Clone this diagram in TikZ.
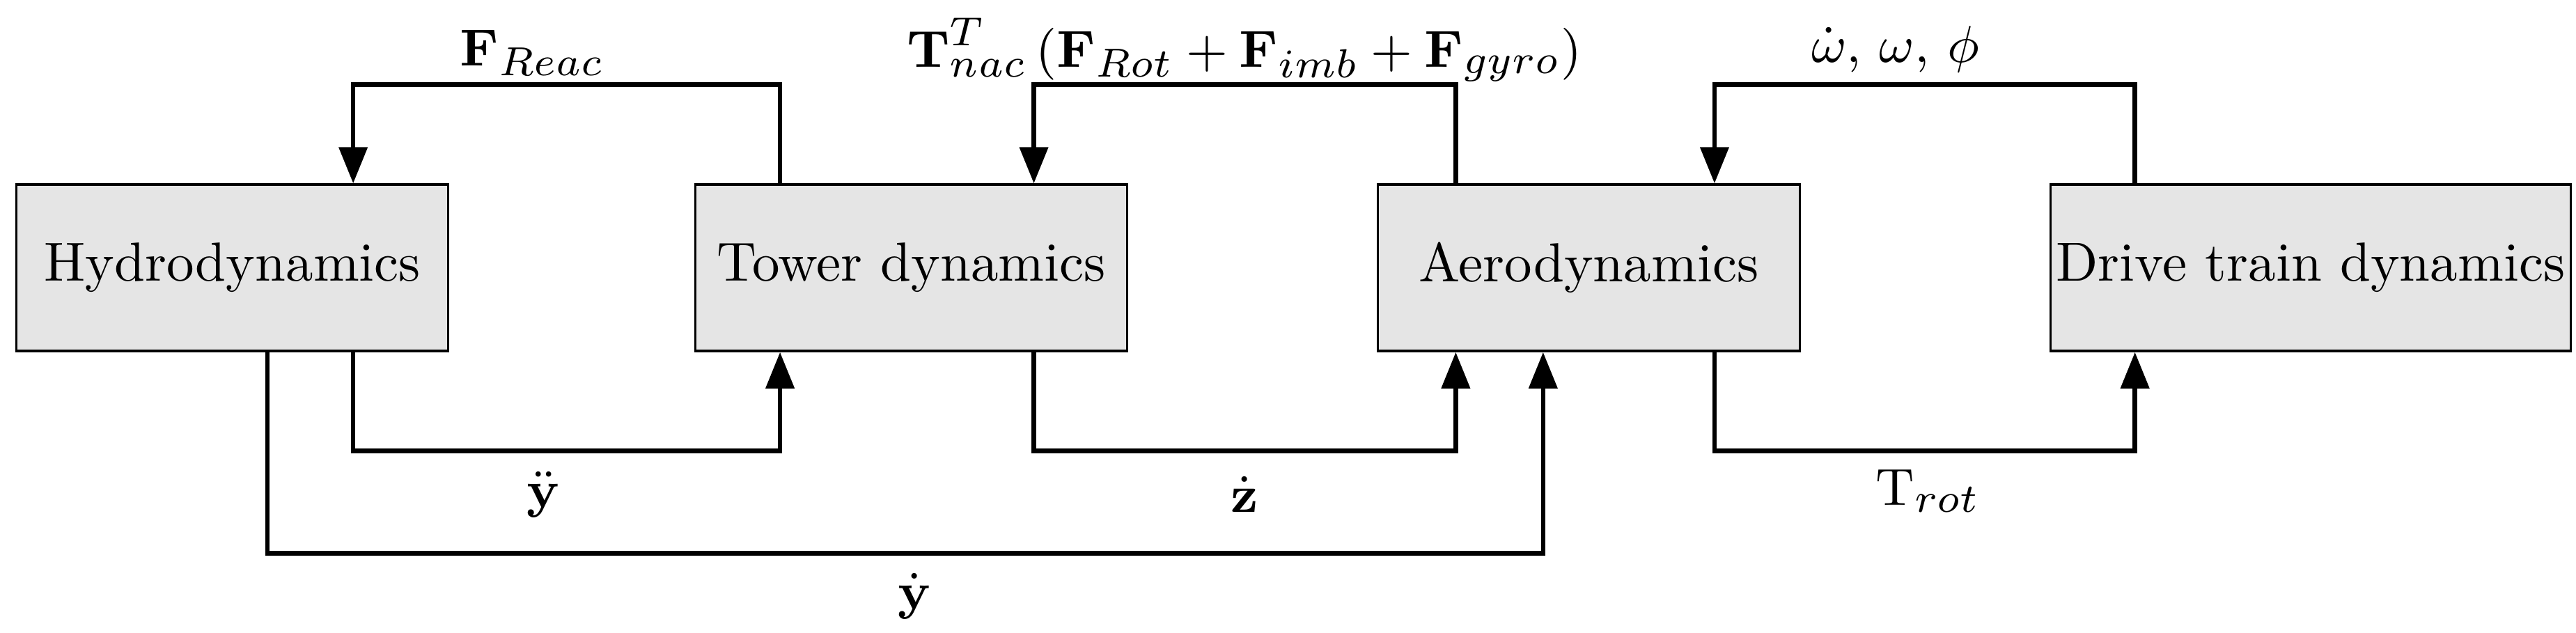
\documentclass[tikz,border=0pt]{standalone}
\usepackage{bm}
\usepackage{tikz}
\usetikzlibrary{arrows.meta}

\begin{document}
\begin{tikzpicture}
        [%%%%%%%%%%%%%%%%%%%%%%%%%%%%%%
        block/.style={draw=black, fill=black!10, minimum height=1.01cm, inner xsep=1pt, font=\fontsize{9.5}{11}\selectfont},
        link/.style={thick, -{Triangle[length=2.2mm,width=1.7mm]}},
        lbl/.style={font=\fontsize{9.5}{11}\selectfont},
        ]%%%%%%%%%%%%%%%%%%%%%%%%%%%%%%
        \useasboundingbox (0,0) rectangle (15.63,3.84);
        % Blocks
        \node[block, minimum width=2.62cm] (hydro) at (1.41,2.215) {Hydrodynamics};
        \node[block, minimum width=2.62cm] (tower) at (5.53,2.215) {Tower dynamics};
        \node[block, minimum width=2.56cm] (aero) at (9.64,2.215) {Aerodynamics};
        \node[block, minimum width=3.10cm] (drive) at (14.02,2.215) {Drive train dynamics};
        % Feedback lines (top)
        \draw[link] ([xshift=0.52cm]tower.north west) -- ++(0,0.6) -| ([xshift=2.05cm]hydro.north west);
        \draw[link] ([xshift=0.48cm]aero.north west) -- ++(0,0.6) -| ([xshift=2.06cm]tower.north west);
        \draw[link] ([xshift=0.52cm]drive.north west) -- ++(0,0.6) -| ([xshift=2.05cm]aero.north west);
        % Forward lines (bottom)
        \draw[link] ([xshift=2.05cm]hydro.south west) -- ++(0,-0.6) -| ([xshift=0.52cm]tower.south west);
        \draw[link] ([xshift=2.06cm]tower.south west) -- ++(0,-0.6) -| ([xshift=0.48cm]aero.south west);
        \draw[link] ([xshift=2.05cm]aero.south west) -- ++(0,-0.6) -| ([xshift=0.52cm]drive.south west);
        \draw[link] ([xshift=1.53cm]hydro.south west) -- ++(0,-1.22) -| ([xshift=1.01cm]aero.south west);
        % Text
        \node[lbl] (freac) at (3.23,3.52) {$\mathbf{F}_{Reac}$};
        \node[lbl] (tnac) at (7.55,3.54) {$\mathbf{T}_{nac}^{T}\left(\mathbf{F}_{Rot}+\mathbf{F}_{imb}+\mathbf{F}_{gyro}\right)$};
        \node[lbl] (omega) at (11.50,3.54) {$\dot{\omega},\,\omega,\,\phi$};
        \node[lbl] (yddot) at (3.30,0.84) {$\ddot{\mathbf{y}}$};
        \node[lbl] (zdot) at (7.55,0.84) {$\dot{\mathbf{z}}$};
        \node[lbl] (trot) at (11.70,0.86) {$\mathrm{T}_{rot}$};
        \node[lbl] (ydot) at (5.55,0.22) {$\dot{\mathbf{y}}$};
\end{tikzpicture}
\end{document}
